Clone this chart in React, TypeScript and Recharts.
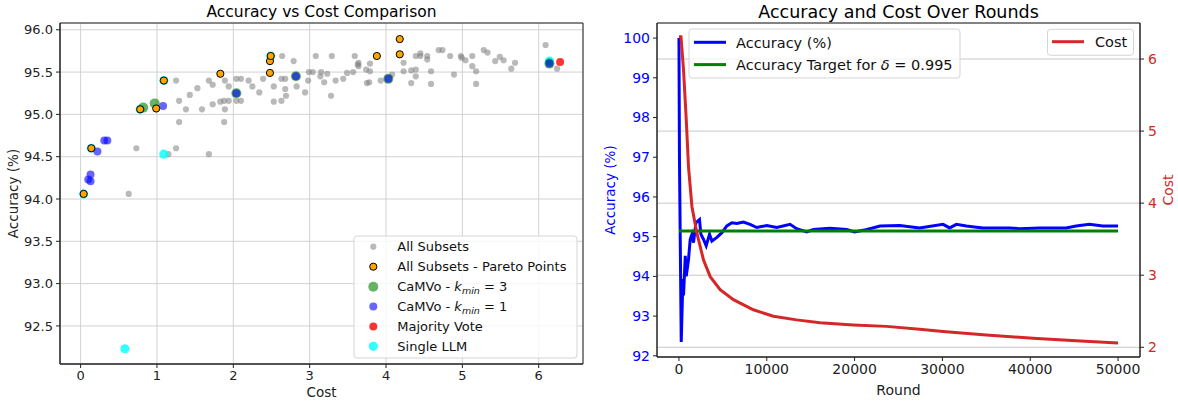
import React from "react";
import {
  CartesianGrid,
  Line,
  LineChart,
  ReferenceArea,
  Scatter,
  ScatterChart,
  XAxis,
  YAxis,
} from "recharts";

const FONT = "'DejaVu Sans', 'Liberation Sans', sans-serif";

// ---- left panel: accuracy vs cost, [cost, accuracy] pairs ----
const allSubsets: [number, number][] = [
  [0.04, 94.06], [0.14, 94.6], [0.63, 94.06], [0.73, 94.6], [0.78, 95.06], [0.99, 95.06],
  [1.09, 95.4], [1.15, 94.53], [1.25, 94.6], [1.25, 95.4], [1.29, 95.16], [1.29, 94.91],
  [1.38, 95.06], [1.43, 95.23], [1.53, 95.31], [1.59, 95.06], [1.68, 94.53], [1.68, 95.4],
  [1.73, 95.35], [1.73, 95.12], [1.83, 95.15], [1.83, 95.48], [1.88, 95.16], [1.89, 95.06],
  [1.88, 94.91], [1.89, 95.4], [1.94, 95.33], [1.94, 95.16], [2.04, 95.42], [2.1, 95.42],
  [2.04, 95.16], [2.1, 95.16], [2.2, 95.4], [2.25, 95.33], [2.34, 95.26], [2.39, 95.42],
  [2.48, 95.49], [2.48, 95.63], [2.49, 95.69], [2.53, 95.33], [2.53, 95.15], [2.63, 95.42],
  [2.68, 95.42], [2.68, 95.3], [2.69, 95.22], [2.63, 95.16], [2.64, 95.69], [2.79, 95.63],
  [2.83, 95.33], [2.94, 95.26], [2.98, 95.4], [2.99, 95.5], [3.04, 95.5], [3.08, 95.69],
  [3.14, 95.45], [3.15, 95.5], [3.19, 95.38], [3.23, 95.48], [3.28, 95.22], [3.29, 95.69],
  [3.34, 95.4], [3.44, 95.42], [3.49, 95.49], [3.57, 95.5], [3.59, 95.69], [3.63, 95.59],
  [3.64, 95.61], [3.64, 95.57], [3.74, 95.53], [3.75, 95.37], [3.78, 95.38], [3.79, 95.6],
  [3.79, 95.51], [3.88, 95.69], [3.93, 95.4], [4.08, 95.47], [4.18, 95.71], [4.18, 95.89],
  [4.23, 95.61], [4.23, 95.51], [4.33, 95.37], [4.33, 95.52], [4.39, 95.53], [4.39, 95.45],
  [4.39, 95.69], [4.45, 95.72], [4.45, 95.69], [4.54, 95.69], [4.54, 95.65], [4.59, 95.51],
  [4.59, 95.36], [4.69, 95.76], [4.74, 95.76], [4.84, 95.69], [4.89, 95.47], [4.98, 95.69],
  [4.99, 95.67], [5.04, 95.64], [5.13, 95.69], [5.13, 95.57], [5.18, 95.51], [5.18, 95.36],
  [5.28, 95.76], [5.33, 95.73], [5.43, 95.63], [5.49, 95.68], [5.54, 95.64], [5.64, 95.54],
  [5.69, 95.61], [6.09, 95.82], [6.14, 95.63], [6.24, 95.54],
];
const paretoPoints: [number, number][] = [
  [0.04, 94.06], [0.14, 94.6], [0.78, 95.06], [0.99, 95.07], [1.09, 95.4], [1.83, 95.48],
  [2.48, 95.49], [2.48, 95.63], [2.49, 95.69], [3.88, 95.69], [4.18, 95.71], [4.18, 95.89],
];
const camvoK3: [number, number][] = [
  [0.82, 95.08], [0.97, 95.13], [2.04, 95.25], [2.82, 95.45], [4.03, 95.42], [6.14, 95.6],
];
const camvoK1: [number, number][] = [
  [0.1, 94.23], [0.13, 94.21], [0.13, 94.29], [0.22, 94.56], [0.31, 94.69], [0.35, 94.69],
  [1.08, 95.1], [2.04, 95.25], [2.82, 95.45], [4.03, 95.42], [6.14, 95.6],
];
const majorityVote: [number, number][] = [[6.28, 95.62]];
const singleLLM: [number, number][] = [
  [0.04, 94.06], [0.14, 94.6], [0.58, 92.23], [0.78, 95.06], [1.09, 95.4], [1.09, 94.53],
  [2.49, 95.69], [6.14, 95.63],
];
const costTicks = [0, 1, 2, 3, 4, 5, 6];
const accTicksLeft = [92.5, 93.0, 93.5, 94.0, 94.5, 95.0, 95.5, 96.0];

// ---- right panel: accuracy / cost over rounds ----
const accRounds = [
  0, 60, 260, 450, 520, 720, 830, 1090, 1280, 1480, 1660, 1930, 2340, 2500, 2800, 3100, 3480,
  3750, 4320, 4890, 5450, 6020, 6590, 7340, 8100, 8860, 10000, 11140, 12650, 13400, 14550,
  15300, 17200, 19100, 20000, 21400, 22900, 25150, 27400, 30070, 30830, 31590, 32730, 34600,
  37650, 38800, 41060, 44090, 45230, 46740, 48250, 50000,
];
const accValues = [
  100, 96.9, 92.35, 93.93, 93.52, 94.52, 94.0, 94.43, 94.93, 95.06, 94.85, 95.35, 95.43, 95.06,
  94.93, 94.77, 95.06, 94.89, 94.98, 95.1, 95.27, 95.35, 95.33, 95.37, 95.31, 95.23, 95.28,
  95.23, 95.31, 95.2, 95.12, 95.18, 95.21, 95.18, 95.12, 95.18, 95.27, 95.28, 95.22, 95.31,
  95.22, 95.31, 95.27, 95.22, 95.22, 95.2, 95.22, 95.22, 95.27, 95.31, 95.27, 95.27,
];
const targetRounds = [0, 50000];
const targetValues = [95.14, 95.14];
const costRounds = [
  0, 230, 520, 830, 1090, 1480, 2050, 2800, 3560, 4690, 6200, 8480, 10750, 13400, 16060,
  19840, 23640, 27400, 30070, 35000, 40300, 45230, 50000,
];
const costValues = [
  6.31, 6.31, 5.85, 5.16, 4.5, 3.95, 3.58, 3.21, 2.98, 2.8, 2.66, 2.52, 2.43, 2.38, 2.34,
  2.31, 2.29, 2.25, 2.22, 2.17, 2.125, 2.09, 2.06,
];
const roundTicks = [0, 10000, 20000, 30000, 40000, 50000];
const accTicksRight = [92, 93, 94, 95, 96, 97, 98, 99, 100];
const costAxisTicks = [2, 3, 4, 5, 6];

const toPts = (arr: [number, number][]) => arr.map(([x, y]) => ({ x, y }));
const toSeries = (xs: number[], ys: number[]) => xs.map((round, i) => ({ round, value: ys[i] }));

const dot =
  (r: number, fill: string, opacity = 1, stroke = "none") =>
  (p: any) =>
    <circle cx={p.cx} cy={p.cy} r={r} fill={fill} fillOpacity={opacity} stroke={stroke} strokeWidth={1} />;

const axisInk = "#222";

function ScatterPanel() {
  return (
    <ScatterChart width={590} height={402} margin={{ top: 23, right: 7, bottom: 0, left: 0 }}>
      <CartesianGrid stroke="#d2d2d2" />
      <XAxis
        type="number"
        dataKey="x"
        domain={[-0.27, 6.58]}
        ticks={costTicks}
        allowDataOverflow
        height={38}
        tickSize={4}
        tickMargin={3}
        tick={{ fontSize: 13, fill: axisInk, fontFamily: FONT }}
        axisLine={{ stroke: axisInk }}
        tickLine={{ stroke: axisInk }}
        label={{ value: "Cost", position: "insideBottom", offset: 5, fontSize: 13.5, fill: axisInk, fontFamily: FONT }}
      />
      <YAxis
        type="number"
        dataKey="y"
        domain={[92.05, 96.08]}
        ticks={accTicksLeft}
        allowDataOverflow
        width={60}
        tickSize={4}
        tickMargin={3}
        tickFormatter={(v: number) => v.toFixed(1)}
        tick={{ fontSize: 13, fill: axisInk, fontFamily: FONT }}
        axisLine={{ stroke: axisInk }}
        tickLine={{ stroke: axisInk }}
        label={{
          value: "Accuracy (%)",
          angle: -90,
          position: "insideLeft",
          offset: 13,
          fontSize: 13.5,
          fill: axisInk,
          fontFamily: FONT,
          style: { textAnchor: "middle" },
        }}
      />
      <ReferenceArea x1={-0.27} x2={6.58} y1={92.05} y2={96.08} fill="none" stroke={axisInk} />
      <Scatter data={toPts(allSubsets)} shape={dot(3.1, "#808080", 0.55)} isAnimationActive={false} />
      <Scatter data={toPts(singleLLM)} shape={dot(4.6, "#00ffff", 0.8)} isAnimationActive={false} />
      <Scatter data={toPts(camvoK3)} shape={dot(5, "#008000", 0.6)} isAnimationActive={false} />
      <Scatter data={toPts(camvoK1)} shape={dot(4, "#0000ff", 0.6)} isAnimationActive={false} />
      <Scatter data={toPts(majorityVote)} shape={dot(4, "#ff0000", 0.8)} isAnimationActive={false} />
      <Scatter data={toPts(paretoPoints)} shape={dot(3.6, "#ffa500", 1, "#000")} isAnimationActive={false} />
    </ScatterChart>
  );
}

function RoundsPanel() {
  return (
    <LineChart width={588} height={402} margin={{ top: 23, right: 0, bottom: 0, left: 0 }}>
      <CartesianGrid vertical={false} yAxisId="cost" stroke="#c8c8c8" />
      <XAxis
        type="number"
        dataKey="round"
        domain={[-2500, 52500]}
        ticks={roundTicks}
        allowDataOverflow
        height={45}
        tickSize={4}
        tickMargin={3}
        tick={{ fontSize: 14, fill: axisInk, fontFamily: FONT }}
        axisLine={{ stroke: axisInk }}
        tickLine={{ stroke: axisInk }}
        label={{ value: "Round", position: "insideBottom", offset: 7, fontSize: 14, fill: axisInk, fontFamily: FONT }}
      />
      <YAxis
        yAxisId="acc"
        type="number"
        domain={[91.97, 100.38]}
        ticks={accTicksRight}
        allowDataOverflow
        width={67}
        tickSize={4}
        tickMargin={3}
        tick={{ fontSize: 14, fill: "#0000ff", fontFamily: FONT }}
        axisLine={{ stroke: axisInk }}
        tickLine={{ stroke: axisInk }}
        label={{
          value: "Accuracy (%)",
          angle: -90,
          position: "insideLeft",
          offset: 20,
          fontSize: 13.5,
          fill: "#0000ff",
          fontFamily: FONT,
          style: { textAnchor: "middle" },
        }}
      />
      <YAxis
        yAxisId="cost"
        orientation="right"
        type="number"
        domain={[1.865, 6.5]}
        ticks={costAxisTicks}
        allowDataOverflow
        width={38}
        tickSize={4}
        tickMargin={4}
        tick={{ fontSize: 14, fill: "#d62728", fontFamily: FONT }}
        axisLine={{ stroke: axisInk }}
        tickLine={{ stroke: axisInk }}
        label={{
          value: "Cost",
          angle: -90,
          position: "insideRight",
          offset: 10,
          fontSize: 14,
          fill: "#d62728",
          fontFamily: FONT,
          style: { textAnchor: "middle" },
        }}
      />
      <ReferenceArea yAxisId="acc" x1={-2500} x2={52500} y1={91.97} y2={100.38} fill="none" stroke={axisInk} />
      <Line
        yAxisId="acc"
        data={toSeries(accRounds, accValues)}
        dataKey="value"
        stroke="#0000ff"
        strokeWidth={3}
        dot={false}
        isAnimationActive={false}
      />
      <Line
        yAxisId="acc"
        data={toSeries(targetRounds, targetValues)}
        dataKey="value"
        stroke="#008000"
        strokeWidth={3}
        dot={false}
        isAnimationActive={false}
      />
      <Line
        yAxisId="cost"
        data={toSeries(costRounds, costValues)}
        dataKey="value"
        stroke="#d62728"
        strokeWidth={3}
        dot={false}
        isAnimationActive={false}
      />
    </LineChart>
  );
}

function Overlay() {
  const legendRows = [
    { y: 246.7, marker: <circle r={3.1} fill="#808080" fillOpacity={0.55} />, text: <tspan>All Subsets</tspan> },
    {
      y: 266.7,
      marker: <circle r={3.6} fill="#ffa500" stroke="#000" />,
      text: <tspan>All Subsets - Pareto Points</tspan>,
    },
    {
      y: 286.7,
      marker: <circle r={5} fill="#008000" fillOpacity={0.6} />,
      text: (
        <>
          <tspan>CaMVo - </tspan>
          <tspan fontStyle="italic">k</tspan>
          <tspan fontStyle="italic" fontSize={9.5} dy={3}>min</tspan>
          <tspan dy={-3}> = 3</tspan>
        </>
      ),
    },
    {
      y: 306.6,
      marker: <circle r={4} fill="#0000ff" fillOpacity={0.6} />,
      text: (
        <>
          <tspan>CaMVo - </tspan>
          <tspan fontStyle="italic">k</tspan>
          <tspan fontStyle="italic" fontSize={9.5} dy={3}>min</tspan>
          <tspan dy={-3}> = 1</tspan>
        </>
      ),
    },
    { y: 326.5, marker: <circle r={4} fill="#ff0000" fillOpacity={0.8} />, text: <tspan>Majority Vote</tspan> },
    { y: 346.3, marker: <circle r={4.6} fill="#00ffff" fillOpacity={0.8} />, text: <tspan>Single LLM</tspan> },
  ];
  return (
    <svg
      width={1178}
      height={402}
      style={{ position: "absolute", left: 0, top: 0, pointerEvents: "none" }}
      fontFamily={FONT}
    >
      <text x={321.5} y={17} textAnchor="middle" fontSize={15.5} fill="#000">
        Accuracy vs Cost Comparison
      </text>
      <text x={898.5} y={18} textAnchor="middle" fontSize={17.5} fill="#000">
        Accuracy and Cost Over Rounds
      </text>

      {/* left legend */}
      <rect x={354} y={236} width={223} height={122} rx={3} fill="#fff" fillOpacity={0.8} stroke="#d5d5d5" />
      {legendRows.map((row, i) => (
        <g key={i}>
          <g transform={`translate(373.3, ${row.y})`}>{row.marker}</g>
          <text x={397.3} y={row.y + 4.7} fontSize={13} fill="#111">
            {row.text}
          </text>
        </g>
      ))}

      {/* right legends */}
      <rect x={689} y={29} width={271} height={49} rx={3} fill="#fff" fillOpacity={0.8} stroke="#d5d5d5" />
      <line x1={694} x2={726} y1={42.3} y2={42.3} stroke="#0000ff" strokeWidth={3} />
      <text x={736} y={47.5} fontSize={14.5} fill="#111">Accuracy (%)</text>
      <line x1={694} x2={726} y1={64.6} y2={64.6} stroke="#008000" strokeWidth={3} />
      <text x={736} y={69.8} fontSize={14.5} fill="#111">
        <tspan>Accuracy Target for </tspan>
        <tspan fontStyle="italic">δ</tspan>
        <tspan> = 0.995</tspan>
      </text>

      <rect x={1047.5} y={29.3} width={86} height={26} rx={3} fill="#fff" fillOpacity={0.8} stroke="#d5d5d5" />
      <line x1={1052} x2={1084} y1={41.7} y2={41.7} stroke="#d62728" strokeWidth={3} />
      <text x={1095} y={46.9} fontSize={14.5} fill="#111">Cost</text>
    </svg>
  );
}

export default function App() {
  return (
    <div
      style={{
        position: "absolute",
        left: 0,
        top: 0,
        width: 1178,
        height: 402,
        background: "#fff",
        overflow: "hidden",
        fontFamily: FONT,
      }}
    >
      <div style={{ position: "absolute", left: 0, top: 0 }}>
        <ScatterPanel />
      </div>
      <div style={{ position: "absolute", left: 590, top: 0 }}>
        <RoundsPanel />
      </div>
      <Overlay />
    </div>
  );
}
